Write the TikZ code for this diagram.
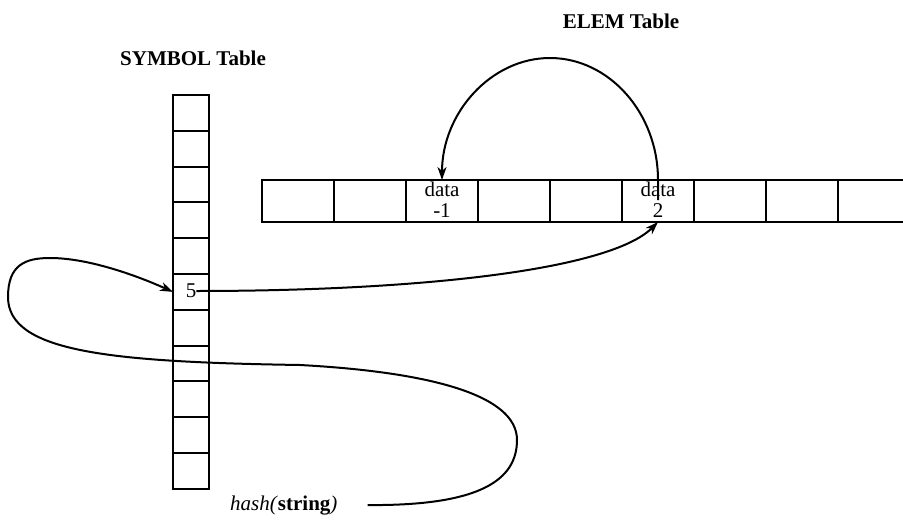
\documentclass[tikz,border=0pt]{standalone}
\usepackage{fontspec}
\setmainfont{Liberation Serif}
\usetikzlibrary{arrows.meta}
\begin{document}
\begin{tikzpicture}[x=1pt,y=-1pt,
  cellbox/.style={draw, line width=2pt, minimum width=36pt, minimum height=35.8pt, inner sep=0pt, outer sep=0pt},
  elembox/.style={draw, line width=2pt, minimum width=72pt, minimum height=42pt, inner sep=0pt, outer sep=0pt},
  txt/.style={font=\fontsize{21}{21}\selectfont, inner sep=0pt},
  ttl/.style={font=\fontsize{21}{21}\selectfont\bfseries, inner sep=0pt},
  conn/.style={line width=2pt, -{Stealth[length=13pt,width=9pt,inset=4pt]}}
]
\useasboundingbox (0,0) rectangle (903,522);

% SYMBOL table cells
\foreach \i in {0,...,10}
  \node[cellbox] (s\i) at (191, {95+35.8*(\i+0.5)}) {};

% ELEM table cells
\foreach \i in {0,...,8}
  \node[elembox] (e\i) at ({298+72*\i}, 201) {};

% titles and texts
\node[ttl] (symtitle) at (193,58) {SYMBOL Table};
\node[ttl] (elemtitle) at (621,21) {ELEM Table};
\node[txt, align=center] (d2) at (442,200) {data\\-1};
\node[txt, align=center] (d5) at (658,200) {data\\2};
\node[txt] (five) at (191,291) {5};
\node[txt, anchor=base west] (hash) at (230,510) {\textit{hash(}\textbf{string}\textit{)}};

\coordinate (arctop) at (550,58);
\coordinate (hashend) at ([xshift=30pt]hash.east);
\coordinate (loopright) at (517,440);
\coordinate (loopmid) at (300,365);
\coordinate (loopleft) at (8,297);
\coordinate (looptop) at (50,258);

% arc from data 2 to data -1
\draw[conn] (d5.center) -- (d5.center |- e5.north)
  .. controls +(0,-67) and +(59,0) .. (arctop)
  .. controls +(-59,0) and +(0,-67) .. (e2.north);

% from 5 to data 2
\draw[conn] (five.east) .. controls (420,291) and (610,270) .. (e5.south);

% hash loop into cell 5
\draw[conn] (hashend)
  .. controls (480,506) and (517,480) .. (loopright)
  .. controls (517,395) and (430,372) .. (loopmid)
  .. controls (110,362) and (8,352) .. (loopleft)
  .. controls (8,265) and (25,258) .. (looptop)
  .. controls (90,258) and (140,277) .. (s5.west);
\end{tikzpicture}
\end{document}
